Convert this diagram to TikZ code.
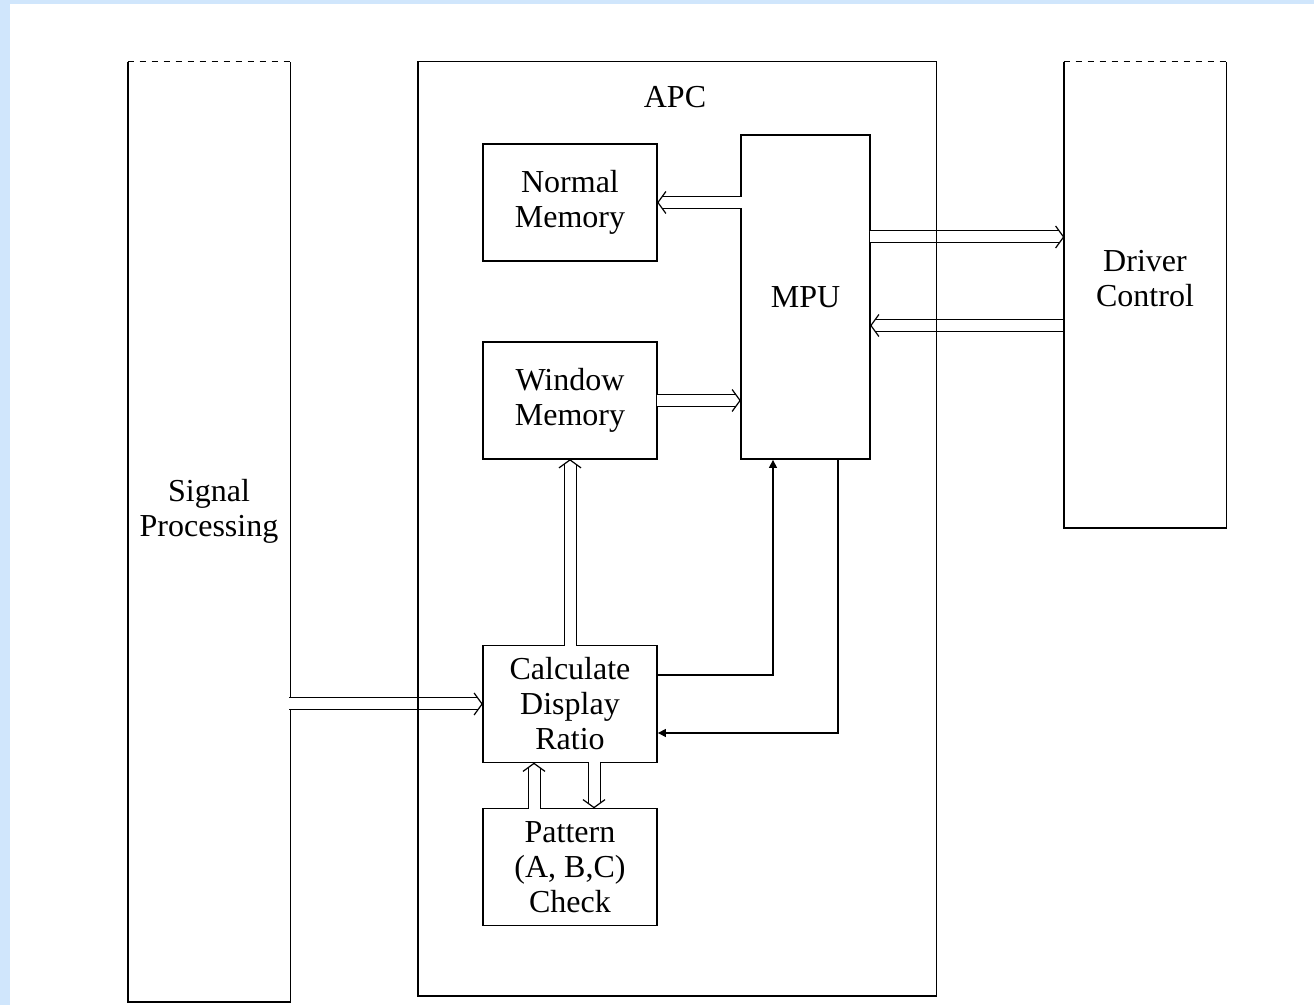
\documentclass[tikz,border=0pt]{standalone}
\usepackage{fontspec}
\setmainfont{Liberation Serif}
\usepackage{tikz}
\usetikzlibrary{arrows.meta}
\usetikzlibrary{calc}
\definecolor{bluebg}{RGB}{208,230,252}

\begin{document}
\begin{tikzpicture}[x=0.5pt, y=-0.5pt, font=\fontsize{16}{17.5}\selectfont,
    block/.style = {draw, line width=0.9pt, rectangle, inner sep=0pt, align=center, minimum width=87pt, minimum height=58.5pt},
    panel/.style = {rectangle, inner sep=0pt, minimum width=81pt},
    bus/.style = {line width=0.5pt, double=white, double distance=5.5pt, shorten >=2.2pt},
    head/.style = {line width=0.6pt, line join=miter},
    sig/.style = {line width=0.6pt, -{Triangle[length=4pt, width=4pt]}}]

    \useasboundingbox (0,0) rectangle (1314,1005);
    \fill[bluebg] (0,0) rectangle (10,1005);
    \fill[bluebg] (0,0) rectangle (1314,4);

    \node [panel, minimum height=470pt] (sp) at (209, 532) {};
    \node [panel, minimum height=233pt] (dc) at (1145, 295) {};
    \node [rectangle, inner sep=0pt, minimum width=259pt, minimum height=467pt] (apc) at (677, 529) {};

    \node [block] (nm) at (570, 202.5) {Normal\\Memory};
    \node [block, minimum width=64.5pt, minimum height=162pt] (mpu) at (805.5, 297) {MPU};
    \node [block] (wm) at (570, 400.5) {Window\\Memory};
    \node [block] (cd) at (570, 704) {Calculate\\Display\\Ratio};
    \node [block] (pc) at (570, 867) {Pattern\\(A, B,C)\\Check};

    \node [align=center] (sptext) at (209, 511) {Signal\\Processing};
    \node [align=center] (dctext) at (1145, 279) {Driver\\Control};
    \node (apctext) at (675, 97) {APC};

    \draw[line width=0.9pt] (sp.north west) -- (sp.south west) -- (sp.south east) -- (sp.north east);
    \draw[line width=0.6pt, dashed] (sp.north west) -- (sp.north east);

    \coordinate (mo) at ([yshift=30pt]mpu.east);
    \coordinate (mi) at ([yshift=-14.25pt]mpu.east);
    \coordinate (moe) at (mo -| dc.west);
    \coordinate (mis) at (mi -| dc.west);
    \coordinate (nms) at (mpu.west |- nm.east);
    \coordinate (wme) at (mpu.west |- wm.east);
    \coordinate (sps) at (sp.east |- cd.west);
    \coordinate (pcu) at ([xshift=-18pt]pc.north);
    \coordinate (cdu) at ([xshift=-18pt]cd.south);
    \coordinate (cdd) at ([xshift=12pt]cd.south);
    \coordinate (pcd) at ([xshift=12pt]pc.north);

    \foreach \s/\t/\g in {nms/nm.east/-0.7pt, wm.east/wme/-0.7pt, mo/moe/-0.7pt, mis/mi/0pt,
        cd.north/wm.south/-0.7pt, sps/cd.west/-0.7pt, pcu/cdu/-0.7pt, cdd/pcd/-0.7pt} {
        \draw[bus, shorten <=\g] (\s) to (\t);
        \coordinate (b) at ($(\t)!4pt!(\s)$);
        \draw[head] ($(b)!5.5pt!90:(\s)$) -- (\t) -- ($(b)!5.5pt!-90:(\s)$);
    }

    \draw[line width=0.9pt] (dc.north west) -- (dc.south west) -- (dc.south east) -- (dc.north east);
    \draw[line width=0.6pt, dashed] (dc.north west) -- (dc.north east);

    \draw[sig] ([yshift=14.5pt]cd.east) -| ([xshift=-16.25pt]mpu.south);
    \draw[sig] ([xshift=16.25pt]mpu.south) |- ([yshift=-14.5pt]cd.east);

    \draw[line width=0.9pt] (apc.north west) rectangle (apc.south east);

\end{tikzpicture}
\end{document}
